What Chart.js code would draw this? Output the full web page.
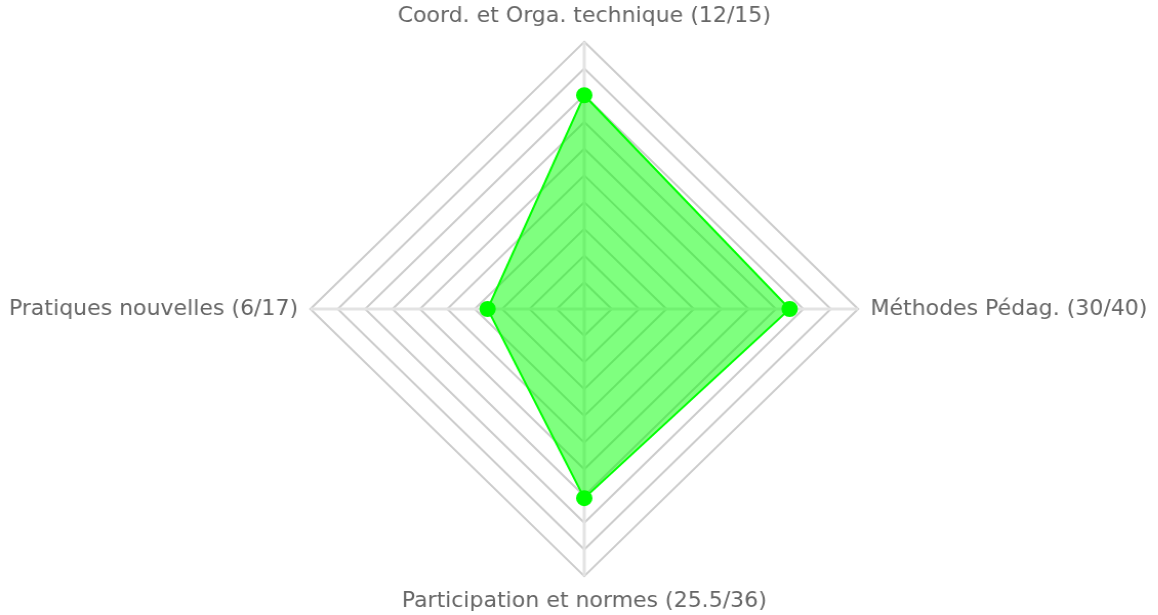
<!DOCTYPE html>
<html>
<head>
<meta charset="utf-8">
<script src="https://cdn.jsdelivr.net/npm/chart.js@4.4.0/dist/chart.umd.min.js"></script>
<style>
  html, body { margin: 0; padding: 0; background: #fff; overflow: hidden; }
  /* le graphique d'origine est un peu étiré en largeur */
  #wrap { width: 1130px; height: 615px; transform: scaleX(1.025); transform-origin: 0 0; }
</style>
</head>
<body>
<div id="wrap"><canvas id="radar" width="1130" height="615"></canvas></div>
<script>
// axes du radar et scores (en % du max de chaque rubrique)
const categories = [
  "Coord. et Orga. technique (12/15)",
  "Méthodes Pédag. (30/40)",
  "Participation et normes (25.5/36)",
  "Pratiques nouvelles (6/17)",
];
const scores = [80, 75, 70.8, 35.3];
const scaleMax = 100;
const scaleStep = 10;

const ctx = document.getElementById("radar");
const radar = new Chart(ctx, {
  type: "radar",
  data: {
    labels: categories,
    datasets: [
      {
        data: scores,
        fill: true,
        backgroundColor: "rgba(0, 255, 0, 0.5)",
        borderColor: "#00ff00",
        borderWidth: 2,
        pointRadius: 7,
        pointBorderWidth: 2,
        pointBackgroundColor: "#00ff00",
        pointBorderColor: "#00ff00",
      },
    ],
  },
  options: {
    responsive: false,
    animation: false,
    layout: { padding: { top: 4 } },
    plugins: {
      legend: { display: false },
      tooltip: { enabled: false },
    },
    scales: {
      r: {
        min: 0,
        max: scaleMax,
        ticks: { display: false, stepSize: scaleStep },
        grid: { color: "#cccccc", lineWidth: 2 },
        angleLines: { color: "#e3e3e3", lineWidth: 3 },
        pointLabels: {
          padding: 12,
          color: "#666",
          font: { family: "'DejaVu Sans', Verdana, sans-serif", size: 21.5 },
        },
      },
    },
  },
});
</script>
</body>
</html>
